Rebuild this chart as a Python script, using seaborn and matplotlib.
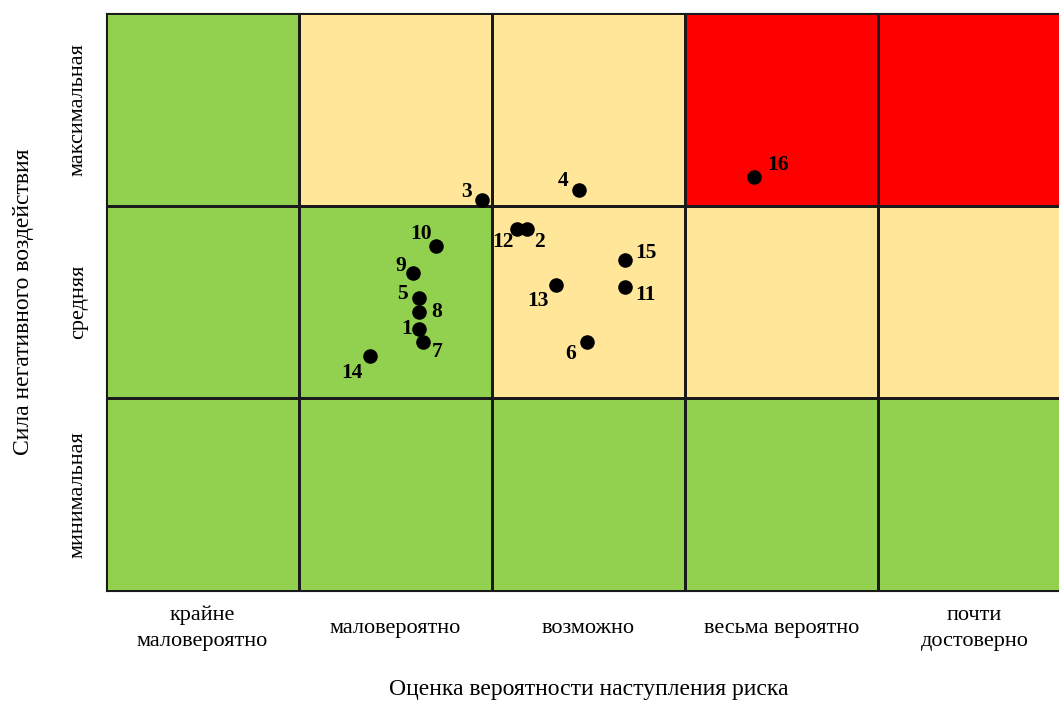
import matplotlib.pyplot as plt
import seaborn as sns
import numpy as np
import pandas as pd
from matplotlib.colors import ListedColormap

sns.set_theme(style='white')
plt.rcParams['font.family'] = ['Liberation Serif', 'DejaVu Serif']
plt.rcParams['text.color'] = 'black'
plt.rcParams['axes.labelcolor'] = 'black'
plt.rcParams['xtick.color'] = 'black'
plt.rcParams['ytick.color'] = 'black'

# axis categories
x_labels = ['крайне\nмаловероятно', 'маловероятно', 'возможно',
            'весьма вероятно', 'почти\nдостоверно']
y_labels = ['минимальная', 'средняя', 'максимальная']

# zone matrix, rows from bottom: 0 = green, 1 = yellow, 2 = red
zones = [[0, 0, 0, 0, 0],
         [0, 0, 1, 1, 1],
         [0, 1, 1, 2, 2]]

# risks (position on the 5x3 grid)
risk_id = [1, 2, 3, 4, 5, 6, 7, 8, 9, 10, 11, 12, 13, 14, 15, 16]
risk_x = [1.62, 2.18, 1.95, 2.45, 1.62, 2.49, 1.64, 1.62, 1.59, 1.71,
          2.69, 2.13, 2.33, 1.37, 2.69, 3.36]
risk_y = [1.36, 1.88, 2.03, 2.08, 1.52, 1.29, 1.29, 1.45, 1.65, 1.79,
          1.58, 1.88, 1.59, 1.22, 1.72, 2.15]
# label offsets in pixels
label_dx = [-12, 13, -16, -16, -16, -16, 15, 18, -12, -15,
            20, -14, -18, -18, 21, 24]
label_dy = [0, -13, 8, 9, 4, -12, -10, 0, 7, 12,
            -8, -13, -16, -17, 7, 12]

df = pd.DataFrame({'id': risk_id, 'x': risk_x, 'y': risk_y})

fig = plt.figure(figsize=(10.59, 7.02), dpi=100)
ax = fig.add_axes([106 / 1059, 1 - 591 / 702, 965 / 1059,
                   (591 - 13) / 702])

cmap = ListedColormap(['#92D050', '#FFE699', '#FF0000'])
ax.pcolormesh(np.arange(6), np.arange(4), np.array(zones), cmap=cmap,
              vmin=-0.5, vmax=2.5, edgecolors='#1a1a1a', linewidth=0.8)

sns.scatterplot(data=df, x='x', y='y', ax=ax, color='black', s=110,
                edgecolor='black', linewidth=0, zorder=3)

for i, dx, dy in zip(risk_id, label_dx, label_dy):
    row = df[df.id == i].iloc[0]
    ax.annotate(str(i), (row.x, row.y), xytext=(dx, dy),
                textcoords='offset pixels', ha='center', va='center',
                fontsize=15.5, fontweight='bold', color='black', zorder=4)

ax.set_xlim(0, 5)
ax.set_ylim(0, 3)
ax.set_xticks(np.arange(5) + 0.5)
ax.set_xticklabels(x_labels, fontsize=16, linespacing=1.5, va='center')
ax.set_yticks(np.arange(3) + 0.5)
ax.set_yticklabels(y_labels, fontsize=16, rotation=90, va='center')
ax.tick_params(axis='x', pad=27, length=0)
ax.tick_params(axis='y', pad=13, length=0)
ax.set_xlabel('Оценка вероятности наступления риска', fontsize=17,
              labelpad=20)
ax.set_ylabel('Сила негативного воздействия', fontsize=17, labelpad=25)
for sp in ax.spines.values():
    sp.set_color('#1a1a1a')
    sp.set_linewidth(0.8)

fig.savefig('out.png', dpi=100)
